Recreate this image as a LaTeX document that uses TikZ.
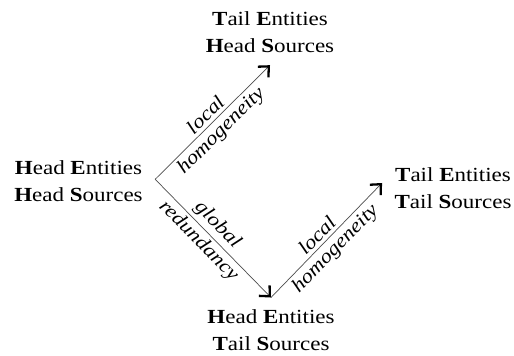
\documentclass[tikz,border=0pt]{standalone}
\usepackage{fontspec}
\setmainfont[FakeStretch=1.15]{Liberation Serif}
\usetikzlibrary{arrows.meta}

\begin{document}
\begin{tikzpicture}[x=1pt, y=1pt,
	ent/.style = {align=center, inner sep=0pt, outer sep=12.5pt,
		font=\fontsize{20}{26.5}\selectfont},
	rel/.style = {draw=black!70, line width=0.7pt,
		-{Straight Barb[length=8pt, width=15pt, line width=2.3pt, black]}},
	lbl/.style = {font=\fontsize{19.5}{24}\selectfont\itshape, sloped}]

\useasboundingbox (0,0) rectangle (514,356);

\node[ent] (hehs) at (78.5,174.7) {\textbf{H}ead \textbf{E}ntities\\\textbf{H}ead \textbf{S}ources};
\node[ent] (tehs) at (270,323.6) {\textbf{T}ail \textbf{E}ntities\\\textbf{H}ead \textbf{S}ources};
\node[ent] (hets) at (271,25.7) {\textbf{H}ead \textbf{E}ntities\\\textbf{T}ail \textbf{S}ources};
\node[ent] (tets) at (453,168) {\textbf{T}ail \textbf{E}ntities\\\textbf{T}ail \textbf{S}ources};

\draw[rel] ([yshift=2pt]hehs.east) -- (tehs.south)
	node[lbl, above, pos=0.5] {local} node[lbl, below, pos=0.5] {homogeneity};
\draw[rel] ([yshift=2pt]hehs.east) -- (hets.north)
	node[lbl, above, pos=0.46] {global} node[lbl, below, pos=0.45] {redundancy};
\draw[rel] (hets.north) -- ([yshift=5pt]tets.west)
	node[lbl, above, pos=0.48] {local} node[lbl, below, pos=0.5] {homogeneity};
\end{tikzpicture}
\end{document}
